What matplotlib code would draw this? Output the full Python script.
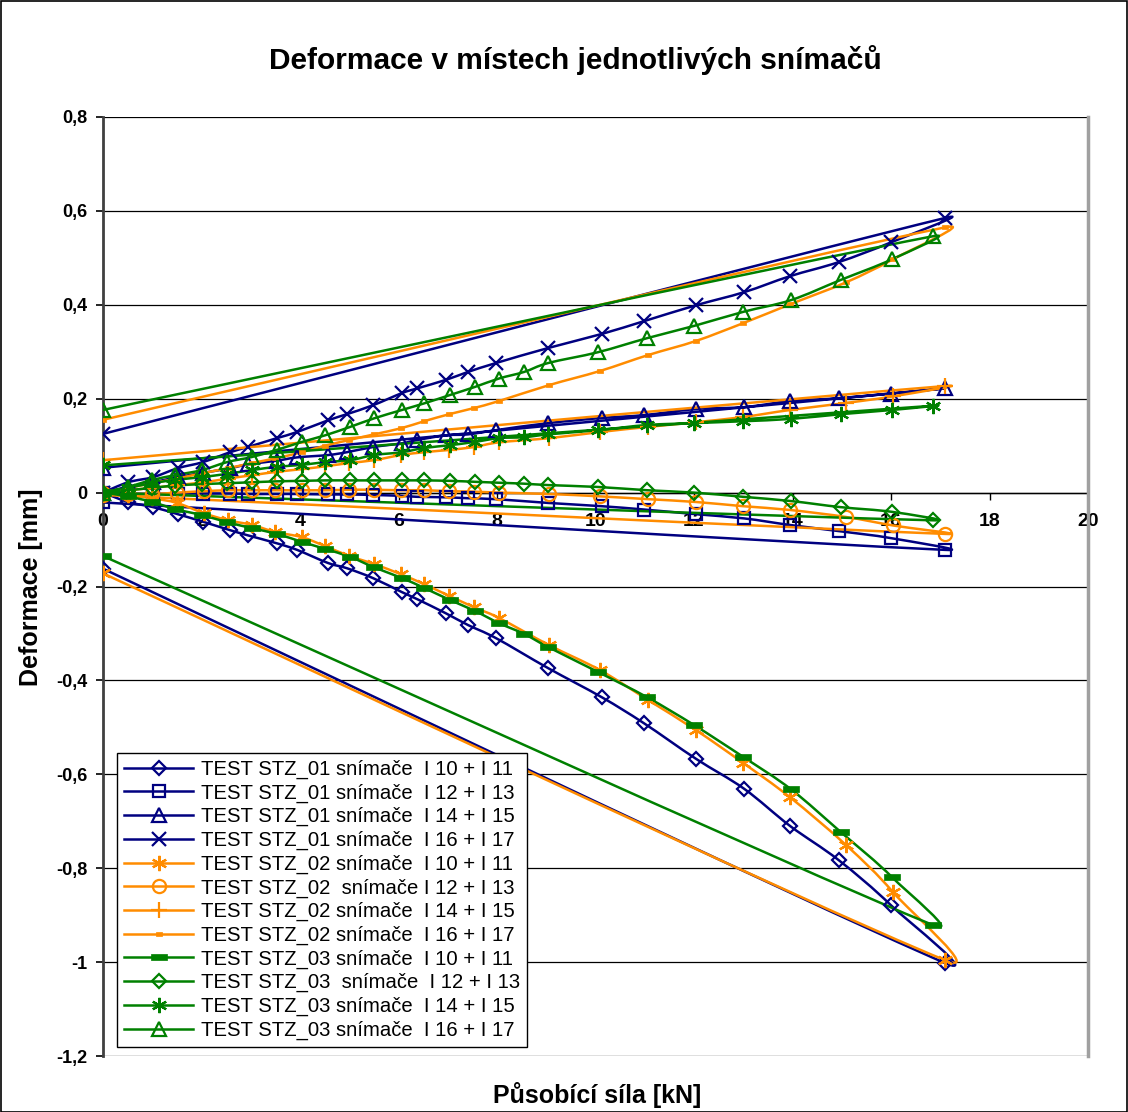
import numpy as np
import matplotlib
matplotlib.use("Agg")
import matplotlib.pyplot as plt
from matplotlib.path import Path
from matplotlib.patches import PathPatch, Rectangle
from matplotlib.lines import Line2D
from matplotlib.ticker import FuncFormatter, MultipleLocator

plt.rcParams["font.family"] = ["Liberation Sans", "DejaVu Sans"]

# ---- measured data: force [kN] and deformation [mm] --------------------
# loading branch points; the last value of each *_unload is the residual
# deformation after unloading back to zero force
force_01 = [0, 0.51, 1.02, 1.52, 2.03, 2.58, 2.94, 3.53, 3.94, 4.57, 4.95, 5.48,
            6.07, 6.38, 6.96, 7.41, 7.98, 9.04, 10.13, 10.98, 12.04, 13.02,
            13.95, 14.94, 16.0, 17.10]
stz01_i10 = [0, -0.020, -0.031, -0.046, -0.062, -0.080, -0.091, -0.108, -0.122,
             -0.150, -0.161, -0.182, -0.212, -0.227, -0.257, -0.282, -0.310,
             -0.374, -0.436, -0.491, -0.567, -0.631, -0.710, -0.783, -0.879, -1.002]
stz01_i12 = [0, -0.002, -0.003, -0.002, -0.002, -0.002, -0.003, -0.003, -0.003,
             -0.004, -0.004, -0.005, -0.007, -0.009, -0.010, -0.012, -0.014,
             -0.022, -0.029, -0.036, -0.046, -0.055, -0.069, -0.082, -0.097, -0.122]
stz01_i14 = [0, 0.012, 0.022, 0.033, 0.042, 0.052, 0.060, 0.068, 0.075, 0.080,
             0.086, 0.097, 0.105, 0.112, 0.122, 0.124, 0.133, 0.148, 0.159, 0.165,
             0.178, 0.182, 0.195, 0.201, 0.211, 0.222]
stz01_i16 = [0, 0.022, 0.033, 0.052, 0.065, 0.086, 0.097, 0.116, 0.129, 0.154,
             0.167, 0.186, 0.212, 0.222, 0.240, 0.257, 0.276, 0.308, 0.338, 0.365,
             0.399, 0.427, 0.461, 0.491, 0.533, 0.585]
stz01_unload = [-0.162, -0.021, 0.053, 0.125]

force_02 = [0, 0.5, 1.0, 1.5, 2.05, 2.54, 3.03, 3.5, 4.04, 4.51, 5.0, 5.5, 6.05,
            6.52, 7.03, 7.53, 8.04, 9.06, 10.09, 11.07, 12.04, 13.0, 13.95,
            15.09, 16.04, 17.10]
stz02_i10 = [0, -0.005, -0.012, -0.022, -0.044, -0.059, -0.069, -0.084, -0.095,
             -0.114, -0.135, -0.152, -0.174, -0.195, -0.220, -0.244, -0.267,
             -0.325, -0.378, -0.442, -0.506, -0.576, -0.649, -0.751, -0.851, -0.996]
stz02_i12 = [0, -0.002, -0.003, 0.000, 0.003, 0.005, 0.005, 0.005, 0.005, 0.005,
             0.006, 0.006, 0.005, 0.005, 0.003, 0.002, 0.000, -0.003, -0.008,
             -0.014, -0.020, -0.029, -0.037, -0.052, -0.070, -0.088]
stz02_i14 = [0, 0.005, 0.010, 0.016, 0.022, 0.030, 0.037, 0.044, 0.050, 0.056,
             0.063, 0.069, 0.080, 0.086, 0.091, 0.097, 0.107, 0.116, 0.129, 0.140,
             0.150, 0.161, 0.176, 0.191, 0.205, 0.227]
stz02_i16 = [0, 0.010, 0.020, 0.030, 0.042, 0.052, 0.063, 0.073, 0.086, 0.100,
             0.112, 0.124, 0.137, 0.152, 0.167, 0.180, 0.195, 0.229, 0.259, 0.293,
             0.323, 0.361, 0.401, 0.448, 0.497, 0.565]
stz02_unload = [-0.172, -0.005, 0.069, 0.155]

force_03 = [0, 0.5, 1.0, 1.46, 2.01, 2.52, 3.03, 3.53, 4.04, 4.51, 5.02, 5.50,
            6.07, 6.52, 7.05, 7.55, 8.04, 8.55, 9.04, 10.05, 11.05, 12.0, 13.0,
            13.97, 14.98, 16.02, 16.85]
stz03_i10 = [0, -0.008, -0.020, -0.035, -0.048, -0.063, -0.076, -0.088, -0.105,
             -0.120, -0.137, -0.159, -0.182, -0.203, -0.229, -0.252, -0.278,
             -0.301, -0.329, -0.382, -0.436, -0.495, -0.563, -0.632, -0.723,
             -0.819, -0.921]
stz03_i12 = [0, 0.005, 0.010, 0.015, 0.018, 0.020, 0.022, 0.024, 0.025, 0.026,
             0.026, 0.026, 0.026, 0.026, 0.025, 0.023, 0.021, 0.019, 0.016, 0.012,
             0.005, 0.000, -0.009, -0.018, -0.031, -0.041, -0.059]
stz03_i14 = [0, 0.010, 0.020, 0.027, 0.033, 0.040, 0.048, 0.055, 0.059, 0.065,
             0.069, 0.080, 0.086, 0.095, 0.101, 0.108, 0.116, 0.118, 0.124, 0.133,
             0.144, 0.148, 0.152, 0.157, 0.167, 0.176, 0.185]
stz03_i16 = [0, 0.012, 0.027, 0.037, 0.048, 0.065, 0.076, 0.091, 0.108, 0.122,
             0.140, 0.158, 0.176, 0.190, 0.208, 0.225, 0.243, 0.257, 0.276, 0.299,
             0.329, 0.355, 0.385, 0.410, 0.453, 0.497, 0.546]
stz03_unload = [-0.135, 0.000, 0.058, 0.176]

labels = [
    "TEST STZ_01 snímače  I 10 + I 11",
    "TEST STZ_01 snímače  I 12 + I 13",
    "TEST STZ_01 snímače  I 14 + I 15",
    "TEST STZ_01 snímače  I 16 + I 17",
    "TEST STZ_02 snímače  I 10 + I 11",
    "TEST STZ_02  snímače I 12 + I 13",
    "TEST STZ_02 snímače  I 14 + I 15",
    "TEST STZ_02 snímače  I 16 + I 17",
    "TEST STZ_03 snímače  I 10 + I 11",
    "TEST STZ_03  snímače  I 12 + I 13",
    "TEST STZ_03 snímače  I 14 + I 15",
    "TEST STZ_03 snímače  I 16 + I 17",
]

# ---- styling ------------------------------------------------------------
NAVY, ORANGE, GREEN = "#000080", "#FF8C00", "#008000"
asterisk = (6, 2, 0)
bar_big = Path([(-1, -0.36), (1, -0.36), (1, 0.36), (-1, 0.36), (-1, -0.36)],
               [1, 2, 2, 2, 79])
bar_small = Path([(-1, -0.6), (1, -0.6), (1, 0.6), (-1, 0.6), (-1, -0.6)],
                 [1, 2, 2, 2, 79])

styles = [
    dict(color=NAVY, marker="D", ms=7.5, mfc="none", mew=1.6),
    dict(color=NAVY, marker="s", ms=8.5, mfc="none", mew=1.6),
    dict(color=NAVY, marker="^", ms=9.5, mfc="none", mew=1.6),
    dict(color=NAVY, marker="x", ms=9.5, mfc="none", mew=1.6),
    dict(color=ORANGE, marker=asterisk, ms=11, mfc="none", mew=1.6),
    dict(color=ORANGE, marker="o", ms=9.5, mfc="none", mew=1.6),
    dict(color=ORANGE, marker="+", ms=11, mfc="none", mew=1.6),
    dict(color=ORANGE, marker=bar_small, ms=5, mfc=ORANGE, mew=0.5),
    dict(color=GREEN, marker=bar_big, ms=11, mfc=GREEN, mew=0.5),
    dict(color=GREEN, marker="D", ms=7.5, mfc="none", mew=1.6),
    dict(color=GREEN, marker=asterisk, ms=11, mfc="none", mew=1.6),
    dict(color=GREEN, marker="^", ms=9.5, mfc="none", mew=1.6),
]

series = []
for force, curves, unload in (
        (force_01, (stz01_i10, stz01_i12, stz01_i14, stz01_i16), stz01_unload),
        (force_02, (stz02_i10, stz02_i12, stz02_i14, stz02_i16), stz02_unload),
        (force_03, (stz03_i10, stz03_i12, stz03_i14, stz03_i16), stz03_unload)):
    for vals, end in zip(curves, unload):
        series.append((list(force) + [0.0], list(vals) + [end]))

# ---- figure -------------------------------------------------------------
W, H = 1128, 1112
fig = plt.figure(figsize=(W / 100, H / 100), dpi=100)
fig.patch.set_facecolor("white")
ax = fig.add_axes([103 / W, 1 - 1056 / H, (1088 - 103) / W, (1056 - 117) / H])
ax.set_xlim(0, 20)
ax.set_ylim(-1.2, 0.8)


def smooth_path(xs, ys):
    """Bezier path through the points, with control arms limited to half
    of each segment (spreadsheet-style smoothed line)."""
    pts = ax.transData.transform(np.column_stack([xs, ys]))
    n = len(pts)
    verts = [pts[0]]
    codes = [Path.MOVETO]
    for i in range(n - 1):
        p0 = pts[i - 1] if i > 0 else pts[i]
        p1, p2 = pts[i], pts[i + 1]
        p3 = pts[i + 2] if i + 2 < n else pts[i + 1]
        seg = np.hypot(*(p2 - p1))
        a1 = (p2 - p0) / 6.0
        a2 = (p3 - p1) / 6.0
        for a in (a1, a2):
            la = np.hypot(*a)
            if la > seg / 2 and la > 0:
                a *= (seg / 2) / la
        verts += [p1 + a1, p2 - a2, p2]
        codes += [Path.CURVE4] * 3
    verts = ax.transData.inverted().transform(np.array(verts))
    return Path(verts, codes)


handles = []
for (xs, ys), st, lab in zip(series, styles, labels):
    ax.add_patch(PathPatch(smooth_path(xs, ys), facecolor="none",
                           edgecolor=st["color"], lw=1.8, zorder=3,
                           capstyle="round", joinstyle="round"))
    ax.plot(xs, ys, linestyle="none", marker=st["marker"], ms=st["ms"],
            mec=st["color"], mfc=st["mfc"], mew=st["mew"], zorder=4)
    handles.append(Line2D([], [], color=st["color"], lw=1.8,
                          marker=st["marker"], ms=st["ms"], mec=st["color"],
                          mfc=st["mfc"], mew=st["mew"]))

# grid and axes
ax.yaxis.set_major_locator(MultipleLocator(0.2))
ax.xaxis.set_major_locator(MultipleLocator(2))
ax.grid(axis="y", color="#000000", lw=0.9, zorder=1)
ax.grid(axis="x", visible=False)
ax.set_axisbelow(True)

ax.spines["bottom"].set_position(("data", 0))
ax.spines["bottom"].set_color("black")
ax.spines["bottom"].set_linewidth(1.0)
ax.spines["bottom"].set_zorder(2)
ax.spines["left"].set_color("#404040")
ax.spines["left"].set_linewidth(2.0)
ax.spines["right"].set_color("#a0a0a0")
ax.spines["right"].set_linewidth(2.5)
ax.spines["top"].set_visible(False)


def comma_fmt(v, _):
    s = f"{v:.1f}".rstrip("0").rstrip(".")
    if s in ("-0", ""):
        s = "0"
    return s.replace(".", ",")


ax.yaxis.set_major_formatter(FuncFormatter(comma_fmt))
ax.xaxis.set_major_formatter(FuncFormatter(lambda v, _: f"{v:g}"))
ax.tick_params(axis="y", direction="out", length=5, width=1.2, pad=6,
               labelsize=13)
ax.tick_params(axis="x", direction="out", length=5, width=1.0, pad=10,
               labelsize=14)
for lbl in ax.get_xticklabels() + ax.get_yticklabels():
    lbl.set_fontweight("bold")

fig.text(575 / W, 1 - 60 / H, "Deformace v místech jednotlivých snímačů",
         ha="center", va="center", fontsize=21.5, fontweight="bold")
fig.text(597 / W, 1 - 1095 / H, "Působící síla [kN]", ha="center",
         va="center", fontsize=18, fontweight="bold")
fig.text(31 / W, 1 - 587 / H, "Deformace [mm]", ha="center", va="center",
         rotation=90, fontsize=18, fontweight="bold")

leg = ax.legend(handles, labels, loc="lower left",
                bbox_to_anchor=(0.0142, 0.0096), borderaxespad=0,
                fontsize=14.6, frameon=True, fancybox=False, framealpha=1,
                edgecolor="black", handlelength=3.4, handletextpad=0.4,
                labelspacing=0.22, borderpad=0.35)
leg.get_frame().set_linewidth(1.0)
leg.set_zorder(6)

# outer frame around the whole chart
fig.add_artist(Rectangle((0.5 / W, 0.5 / H), 1 - 1.5 / W, 1 - 1.5 / H,
                         transform=fig.transFigure, fill=False,
                         edgecolor="black", lw=1.2))

fig.savefig("out.png", dpi=100, facecolor="white")
